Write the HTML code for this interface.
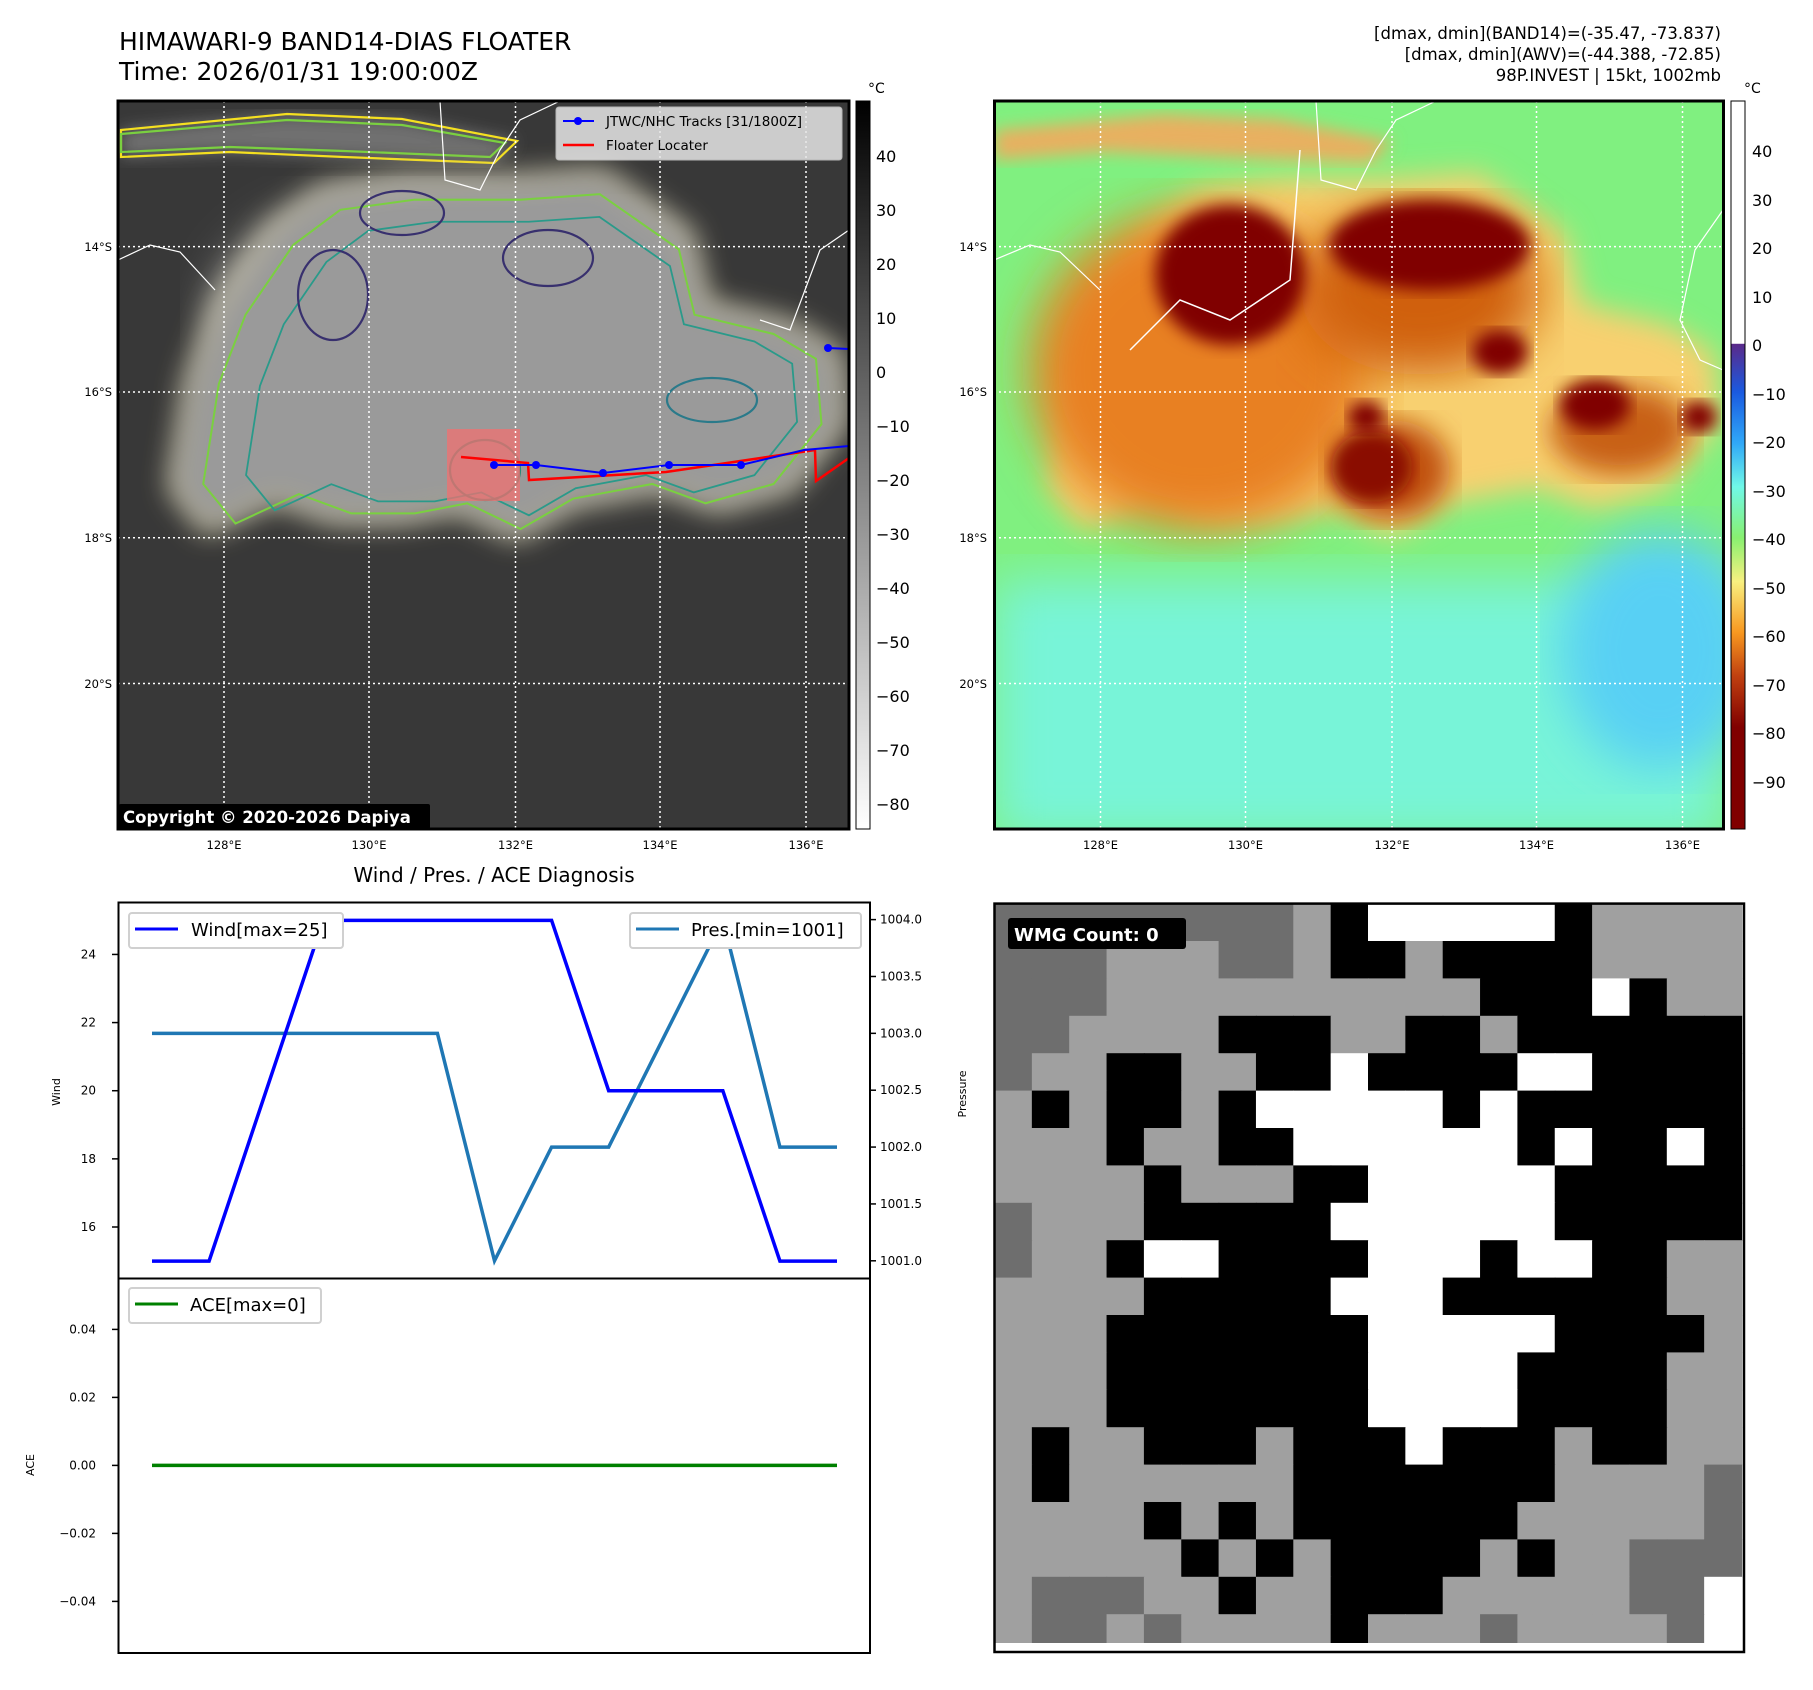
<!DOCTYPE html>
<html><head><meta charset="utf-8"><style>
html,body{margin:0;padding:0;background:#fff;}
body{width:1813px;height:1690px;overflow:hidden;position:relative;font-family:"DejaVu Sans","Liberation Sans",sans-serif;}
svg{position:absolute;left:0;top:0;}
</style></head><body>
<svg id="root" width="1813" height="1690" viewBox="0 0 1813 1690" xmlns="http://www.w3.org/2000/svg" font-family="DejaVu Sans, Liberation Sans, sans-serif">
<defs>
<filter id="b8"><feGaussianBlur stdDeviation="8"/></filter>
<filter id="b14"><feGaussianBlur stdDeviation="14"/></filter>
<filter id="b25"><feGaussianBlur stdDeviation="25"/></filter>
<clipPath id="clipL"><rect x="118" y="101" width="731" height="728"/></clipPath>
<clipPath id="clipR"><rect x="994.5" y="101" width="729" height="728"/></clipPath>
<linearGradient id="cbL" x1="0" y1="0" x2="0" y2="1"><stop offset="0" stop-color="#000"/><stop offset="1" stop-color="#fff"/></linearGradient>
<linearGradient id="cbR" x1="0" y1="0" x2="0" y2="1">
<stop offset="0" stop-color="#fff"/><stop offset="0.333" stop-color="#fff"/><stop offset="0.334" stop-color="#5a2a8a"/>
<stop offset="0.40" stop-color="#1a5ae0"/><stop offset="0.47" stop-color="#30a8f8"/><stop offset="0.53" stop-color="#70f8e8"/>
<stop offset="0.60" stop-color="#88f070"/><stop offset="0.66" stop-color="#f8f080"/><stop offset="0.73" stop-color="#f89820"/>
<stop offset="0.79" stop-color="#c04010"/><stop offset="0.86" stop-color="#800000"/><stop offset="1" stop-color="#800000"/>
</linearGradient>
</defs>

<text x="119" y="50" font-size="25">HIMAWARI-9 BAND14-DIAS FLOATER</text>
<text x="119" y="80" font-size="25">Time: 2026/01/31 19:00:00Z</text>
<g font-size="16.5" text-anchor="end">
<text x="1721" y="39">[dmax, dmin](BAND14)=(-35.47, -73.837)</text>
<text x="1721" y="60">[dmax, dmin](AWV)=(-44.388, -72.85)</text>
<text x="1721" y="81">98P.INVEST | 15kt, 1002mb</text>
</g>

<!-- LEFT MAP -->
<g clip-path="url(#clipL)">
<rect x="118" y="101" width="731" height="728" fill="#383838"/>
<path d="M121,130 L287,114 L402,119 L517,141 L494,163 L344,157 L230,152 L121,157Z" fill="#707070" filter="url(#b8)"/>
<path id="cloudL" d="M189,379 L218,304 L270,228 L321,190 L402,179 L517,179 L603,173 L689,233 L706,304 L792,325 L838,352 L844,423 L792,488 L718,509 L660,488 L574,504 L517,537 L459,509 L402,520 L333,520 L276,499 L207,531 L172,488Z" fill="#9a9a9a" filter="url(#b14)"/>
<ellipse cx="420" cy="320" rx="200" ry="120" fill="#c8c8c8" filter="url(#b25)"/>
<ellipse cx="560" cy="260" rx="110" ry="55" fill="#d0d0d0" filter="url(#b14)"/>
<ellipse cx="700" cy="395" rx="60" ry="30" fill="#c8c8c8" filter="url(#b8)"/>
<ellipse cx="402" cy="211" rx="30" ry="15" fill="#fff" filter="url(#b8)"/>
<ellipse cx="545" cy="255" rx="30" ry="18" fill="#fff" filter="url(#b8)"/>
<ellipse cx="333" cy="293" rx="25" ry="35" fill="#f4f4f4" filter="url(#b8)"/>
<ellipse cx="717" cy="401" rx="28" ry="16" fill="#fff" filter="url(#b8)"/>
<g fill="none" stroke-width="2.2">
<path d="M121,130 L287,114 L402,119 L517,141 L494,163 L344,157 L230,152 L121,157Z" stroke="#f5e020"/>
<path d="M121,134 L287,120 L402,125 L505,143 L490,157 L344,151 L230,147 L121,152Z" stroke="#7ad040"/>
<use href="#cloudL" stroke="#f5e020"/>
<path d="M189,379 L218,304 L270,228 L321,190 L402,179 L517,179 L603,173 L689,233 L706,304 L792,325 L838,352 L844,423 L792,488 L718,509 L660,488 L574,504 L517,537 L459,509 L402,520 L333,520 L276,499 L207,531 L172,488Z" stroke="#7ad040" transform="translate(45,35) scale(0.92)"/>
<path d="M189,379 L218,304 L270,228 L321,190 L402,179 L517,179 L603,173 L689,233 L706,304 L792,325 L838,352 L844,423 L792,488 L718,509 L660,488 L574,504 L517,537 L459,509 L402,520 L333,520 L276,499 L207,531 L172,488Z" stroke="#2a9a8a" transform="translate(105,75) scale(0.82)"/>
<ellipse cx="402" cy="213" rx="42" ry="22" stroke="#38306e"/>
<ellipse cx="548" cy="258" rx="45" ry="28" stroke="#38306e"/>
<ellipse cx="333" cy="295" rx="35" ry="45" stroke="#38306e"/>
<ellipse cx="712" cy="400" rx="45" ry="22" stroke="#2a7a8a"/>
<ellipse cx="485" cy="470" rx="35" ry="30" stroke="#2a8a7a"/>
</g>
<path d="M440,101 L445,180 L480,190 L500,150 L520,120 L560,101" fill="none" stroke="#fff" stroke-width="1.2"/>
<path d="M118,260 L150,245 L180,252 L215,290" fill="none" stroke="#fff" stroke-width="1.2"/>
<path d="M849,230 L820,250 L790,330 L760,320" fill="none" stroke="#fff" stroke-width="1.2"/>
<rect x="447" y="429" width="73" height="72" fill="#f07070" opacity="0.75"/>
<polyline points="461,457 528,463 529,480 666,472 815,450 816,481 849,458" fill="none" stroke="#f00" stroke-width="2.5"/>
<polyline points="494,465 536,465 603,473 669,465 741,465 804,450 849,446" fill="none" stroke="#00f" stroke-width="2"/>
<g fill="#00f"><circle cx="494" cy="465" r="4"/><circle cx="536" cy="465" r="4"/><circle cx="603" cy="473" r="4"/><circle cx="669" cy="465" r="4"/><circle cx="741" cy="465" r="4"/><circle cx="828" cy="348" r="4"/></g>
<line x1="828" y1="348" x2="849" y2="349" stroke="#00f" stroke-width="2"/>
<g stroke="#fff" stroke-width="1.5" stroke-dasharray="2,3">
<line x1="224" y1="101" x2="224" y2="829"/><line x1="369" y1="101" x2="369" y2="829"/><line x1="515.5" y1="101" x2="515.5" y2="829"/><line x1="660" y1="101" x2="660" y2="829"/><line x1="806" y1="101" x2="806" y2="829"/>
<line x1="118" y1="246.6" x2="849" y2="246.6"/><line x1="118" y1="392" x2="849" y2="392"/><line x1="118" y1="537.7" x2="849" y2="537.7"/><line x1="118" y1="683.5" x2="849" y2="683.5"/>
</g>
</g>
<rect x="118" y="101" width="731" height="728" fill="none" stroke="#000" stroke-width="3"/>
<g>
<rect x="556" y="107" width="286" height="53" rx="3" fill="#e6e6e6" opacity="0.85" stroke="#ccc"/>
<line x1="563" y1="121" x2="594" y2="121" stroke="#00f" stroke-width="2"/><circle cx="578" cy="121" r="4" fill="#00f"/>
<text x="606" y="126" font-size="13.5">JTWC/NHC Tracks [31/1800Z]</text>
<line x1="563" y1="145" x2="594" y2="145" stroke="#f00" stroke-width="2.5"/>
<text x="606" y="150" font-size="13.5">Floater Locater</text>
</g>
<g>
<rect x="119" y="804" width="311" height="25" rx="2" fill="#000"/>
<text x="123" y="823" font-size="16.5" font-weight="bold" fill="#fff">Copyright © 2020-2026 Dapiya</text>
</g>
<g font-size="11.5" text-anchor="end">
<text x="112" y="251">14°S</text><text x="112" y="396">16°S</text><text x="112" y="542">18°S</text><text x="112" y="688">20°S</text>
</g>
<g font-size="11.5" text-anchor="middle">
<text x="224" y="849">128°E</text><text x="369" y="849">130°E</text><text x="515.5" y="849">132°E</text><text x="660" y="849">134°E</text><text x="806" y="849">136°E</text>
</g>
<rect x="856" y="101" width="14" height="728" fill="url(#cbL)" stroke="#000" stroke-width="1"/>
<text x="868" y="93" font-size="14">°C</text>
<g font-size="16">
<text x="876" y="162">40</text><text x="876" y="216">30</text><text x="876" y="270">20</text><text x="876" y="324">10</text><text x="876" y="378">0</text>
<text x="876" y="432">−10</text><text x="876" y="486">−20</text><text x="876" y="540">−30</text><text x="876" y="594">−40</text><text x="876" y="648">−50</text><text x="876" y="702">−60</text><text x="876" y="756">−70</text><text x="876" y="810">−80</text>
</g>

<!-- RIGHT MAP -->
<g clip-path="url(#clipR)">
<rect x="994.5" y="101" width="729" height="728" fill="#80f080"/>
<rect x="994.5" y="580" width="729" height="260" fill="#78f4d8" filter="url(#b25)"/>
<ellipse cx="1660" cy="650" rx="100" ry="120" fill="#58d0f4" filter="url(#b25)"/>
<path d="M994,130 L1163,114 L1278,119 L1393,141 L1370,163 L1220,157 L1106,152 L994,160Z" fill="#e8b060" filter="url(#b8)"/>
<path d="M1065,379 L1094,304 L1146,228 L1197,190 L1278,179 L1393,179 L1479,173 L1565,233 L1582,304 L1668,325 L1714,352 L1720,423 L1668,488 L1594,509 L1536,488 L1450,504 L1393,537 L1335,509 L1278,520 L1209,520 L1152,499 L1083,531 L1048,488Z" fill="#f8d070" filter="url(#b14)"/>
<ellipse cx="1200" cy="370" rx="170" ry="160" fill="#e88020" filter="url(#b25)"/>
<ellipse cx="1420" cy="290" rx="120" ry="85" fill="#d06010" filter="url(#b25)"/>
<ellipse cx="1390" cy="470" rx="60" ry="50" fill="#c05010" filter="url(#b14)"/>
<ellipse cx="1620" cy="430" rx="70" ry="45" fill="#c86018" filter="url(#b14)"/>
<ellipse cx="1230" cy="275" rx="75" ry="70" fill="#800000" filter="url(#b8)"/>
<ellipse cx="1430" cy="245" rx="100" ry="45" fill="#800000" filter="url(#b8)"/>
<ellipse cx="1500" cy="352" rx="28" ry="22" fill="#800000" filter="url(#b8)"/>
<ellipse cx="1595" cy="405" rx="35" ry="25" fill="#800000" filter="url(#b8)"/>
<ellipse cx="1372" cy="467" rx="40" ry="35" fill="#8a1000" filter="url(#b8)"/>
<ellipse cx="1366" cy="417" rx="18" ry="16" fill="#800000" filter="url(#b8)"/>
<ellipse cx="1699" cy="417" rx="18" ry="16" fill="#800000" filter="url(#b8)"/>
<path d="M1316,101 L1321,180 L1356,190 L1376,150 L1396,120 L1436,101" fill="none" stroke="#fff" stroke-width="1.2"/>
<path d="M1300,150 L1290,280 L1230,320 L1180,300 L1130,350" fill="none" stroke="#fff" stroke-width="1.5"/>
<path d="M994,260 L1030,245 L1060,252 L1100,290" fill="none" stroke="#fff" stroke-width="1.2"/>
<path d="M1723,210 L1695,250 L1680,320 L1700,360 L1723,370" fill="none" stroke="#fff" stroke-width="1.2"/>
<g stroke="#fff" stroke-width="1.5" stroke-dasharray="2,3">
<line x1="1100.5" y1="101" x2="1100.5" y2="829"/><line x1="1245.5" y1="101" x2="1245.5" y2="829"/><line x1="1392" y1="101" x2="1392" y2="829"/><line x1="1536.5" y1="101" x2="1536.5" y2="829"/><line x1="1682.5" y1="101" x2="1682.5" y2="829"/>
<line x1="994" y1="246.6" x2="1724" y2="246.6"/><line x1="994" y1="392" x2="1724" y2="392"/><line x1="994" y1="537.7" x2="1724" y2="537.7"/><line x1="994" y1="683.5" x2="1724" y2="683.5"/>
</g>
</g>
<rect x="994.5" y="101" width="729" height="728" fill="none" stroke="#000" stroke-width="3"/>
<g font-size="11.5" text-anchor="end">
<text x="987" y="251">14°S</text><text x="987" y="396">16°S</text><text x="987" y="542">18°S</text><text x="987" y="688">20°S</text>
</g>
<g font-size="11.5" text-anchor="middle">
<text x="1100.5" y="849">128°E</text><text x="1245.5" y="849">130°E</text><text x="1392" y="849">132°E</text><text x="1536.5" y="849">134°E</text><text x="1682.5" y="849">136°E</text>
</g>
<rect x="1731" y="101" width="14" height="728" fill="url(#cbR)" stroke="#000" stroke-width="1"/>
<text x="1744" y="93" font-size="14">°C</text>
<g font-size="16">
<text x="1752" y="157">40</text><text x="1752" y="206">30</text><text x="1752" y="254">20</text><text x="1752" y="303">10</text><text x="1752" y="351">0</text>
<text x="1752" y="400">−10</text><text x="1752" y="448">−20</text><text x="1752" y="497">−30</text><text x="1752" y="545">−40</text><text x="1752" y="594">−50</text><text x="1752" y="642">−60</text><text x="1752" y="691">−70</text><text x="1752" y="739">−80</text><text x="1752" y="788">−90</text>
</g>

<!-- BOTTOM CHART -->
<text x="494" y="882" font-size="20" text-anchor="middle">Wind / Pres. / ACE Diagnosis</text>
<g id="chart"></g>
<rect x="118.5" y="902.5" width="751.5" height="376" fill="none" stroke="#000" stroke-width="2"/>
<rect x="118.5" y="1278.5" width="751.5" height="374.5" fill="none" stroke="#000" stroke-width="2"/>
<text transform="translate(60,1092) rotate(-90)" font-size="11" text-anchor="middle">Wind</text>
<text transform="translate(966,1094) rotate(-90)" font-size="11" text-anchor="middle">Pressure</text>
<text transform="translate(34,1465) rotate(-90)" font-size="11" text-anchor="middle">ACE</text>
<g>
<rect x="129" y="913" width="214" height="35" rx="3" fill="#fff" stroke="#d0d0d0" stroke-width="2"/>
<line x1="135" y1="929" x2="178" y2="929" stroke="#00f" stroke-width="3"/>
<text x="191" y="936" font-size="18">Wind[max=25]</text>
</g>
<g>
<rect x="630" y="913" width="231" height="35" rx="3" fill="#fff" stroke="#d0d0d0" stroke-width="2"/>
<line x1="636" y1="929" x2="679" y2="929" stroke="#1f77b4" stroke-width="3"/>
<text x="691" y="936" font-size="18">Pres.[min=1001]</text>
</g>
<g>
<rect x="129" y="1288" width="192" height="35" rx="3" fill="#fff" stroke="#d0d0d0" stroke-width="2"/>
<line x1="135" y1="1304" x2="178" y2="1304" stroke="#008000" stroke-width="3"/>
<text x="190" y="1311" font-size="18">ACE[max=0]</text>
</g>

<g id="wmg"></g>
<rect x="994.5" y="1643" width="750" height="10" fill="#fff"/>
<rect x="994.5" y="903.6" width="749.5" height="748.4" fill="none" stroke="#000" stroke-width="2.5"/>
<g>
<rect x="1008" y="918" width="178" height="31" rx="3" fill="#000"/>
<text x="1014" y="941" font-size="18" font-weight="bold" fill="#fff">WMG Count: 0</text>
</g>
</svg>
<script>
var NS='http://www.w3.org/2000/svg';
var timeIdx=[0,1,2,3,4,5,6,7,8,9,10,11,12];
var windVals=[15,15,20,25,25,25,25,25,20,20,20,15,15];
var presVals=[1003,1003,1003,1003,1003,1003,1001,1002,1002,1003,1004,1002,1002];
var aceVals=[0,0,0,0,0,0,0,0,0,0,0,0,0];
var windTicks=[16,18,20,22,24];
var presTicks=[1001.0,1001.5,1002.0,1002.5,1003.0,1003.5,1004.0];
var aceTicks=[-0.04,-0.02,0.00,0.02,0.04];

function xS(i){return 152+(837-152)*i/(timeIdx.length-1);}
function yW(v){return 1227-(v-16)*34.07;}
function yP(v){return 1260.8-(v-1001)*113.73;}
function yA(v){return 1465.4-v*3400;}
var chart=document.getElementById('chart');
function mk(tag,attrs){var e=document.createElementNS(NS,tag);for(var k in attrs)e.setAttribute(k,attrs[k]);chart.appendChild(e);return e;}
function line(vals,yf,color,name){
  var pts=vals.map(function(v,i){return xS(timeIdx[i])+','+yf(v);}).join(' ');
  var p=mk('polyline',{points:pts,fill:'none',stroke:color,'stroke-width':3.5});
  
  
}
windTicks.forEach(function(t){
  mk('line',{x1:112,x2:118,y1:yW(t),y2:yW(t),stroke:'#000','stroke-width':1.5});
  var tx=mk('text',{x:96,y:yW(t)+4,'font-size':12,'text-anchor':'end'});tx.textContent=t;
  
  
});
presTicks.forEach(function(t){
  mk('line',{x1:870,x2:876,y1:yP(t),y2:yP(t),stroke:'#000','stroke-width':1.5});
  var tx=mk('text',{x:880,y:yP(t)+4,'font-size':12});tx.textContent=t.toFixed(1);
  
  
});
aceTicks.forEach(function(t){
  mk('line',{x1:112,x2:118,y1:yA(t),y2:yA(t),stroke:'#000','stroke-width':1.5});
  var tx=mk('text',{x:96,y:yA(t)+4,'font-size':12,'text-anchor':'end'});tx.textContent=(t<0?'\u2212':'')+Math.abs(t).toFixed(2);
  
  
});
line(presVals,yP,'#1f77b4','pressure-line');
line(windVals,yW,'#0000ff','wind-line');
line(aceVals,yA,'#008000','ace-line');

var rows=["ddddddddgkwwwwwkgggg","dddgggddgkkgkkkkgggg","dddggggggggggkkkwkgg","ddggggkkkggkkgkkkkkk","dggkkggkkwkkkkwwkkkk","gkgkkgkwwwwwkwkkkkkk","gggkggkkwwwwwwkwkkwk","ggggkgggkkwwwwwkkkkk","dgggkkkkkwwwwwwkkkkk","dggkwwkkkkwwwkwwkkgg","ggggkkkkkwwwkkkkkkgg","gggkkkkkkkwwwwwkkkkg","gggkkkkkkkwwwwkkkkgg","gggkkkkkkkwwwwkkkkgg","gkggkkkgkkkwkkkgkkgg","gkggggggkkkkkkkggggd","ggggkgkgkkkkkkgggggd","gggggkgkgkkkkgkggddd","gdddggkggkkkgggggddw","gddgdggggkgggdggggdw"];
var col={d:'#6e6e6e',g:'#a0a0a0',k:'#000',w:'#fff'};
var wmg=document.getElementById('wmg');
rows.forEach(function(r,j){for(var i=0;i<r.length;i++){var e=document.createElementNS(NS,'rect');
e.setAttribute('x',994.5+i*37.35);e.setAttribute('y',903.6+j*37.4);e.setAttribute('width',38);e.setAttribute('height',38);e.setAttribute('fill',col[r[i]]);wmg.appendChild(e);}});
</script>
</body></html>
